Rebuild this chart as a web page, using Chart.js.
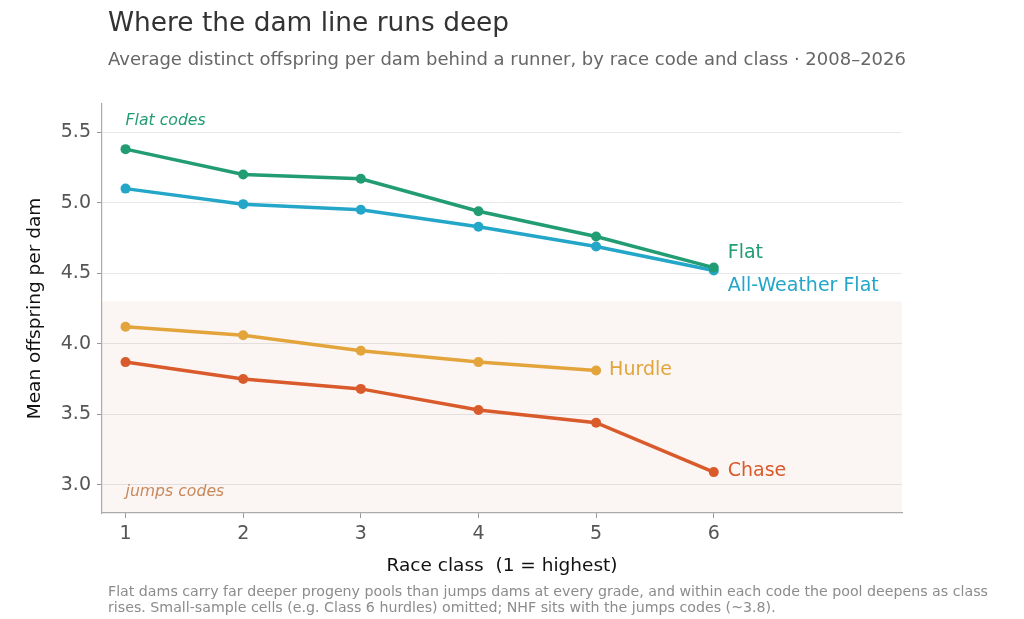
<!DOCTYPE html>
<html>
<head>
<meta charset="utf-8">
<script src="https://cdn.jsdelivr.net/npm/chart.js@4"></script>
<style>
  body { margin: 0; background: #fff; font-family: "DejaVu Sans", sans-serif; }
  #wrap { position: relative; width: 1024px; height: 619px; overflow: hidden; }
  #result { position: absolute; left: 0; top: 0; }
  .txt { position: absolute; left: 108px; white-space: nowrap; }
  #title { top: 7px; font-size: 26.4px; line-height: 30px; color: #333; }
  #subtitle { top: 49px; font-size: 18px; line-height: 20px; color: #666; }
  #note { top: 583px; font-size: 14.2px; line-height: 16px; color: #8c8c8c; }
</style>
</head>
<body>
<div id="wrap">
  <canvas id="result" width="1024" height="619"></canvas>
  <div class="txt" id="title">Where the dam line runs deep</div>
  <div class="txt" id="subtitle">Average distinct offspring per dam behind a runner, by race code and class · 2008–2026</div>
  <div class="txt" id="note">Flat dams carry far deeper progeny pools than jumps dams at every grade, and within each code the pool deepens as class<br>rises. Small-sample cells (e.g. Class 6 hurdles) omitted; NHF sits with the jumps codes (~3.8).</div>
</div>
<script>
// race classes and mean distinct offspring per dam
const raceClasses = [1, 2, 3, 4, 5, 6];
const flatValues = [5.38, 5.20, 5.17, 4.94, 4.76, 4.54];
const awFlatValues = [5.10, 4.99, 4.95, 4.83, 4.69, 4.52];
const hurdleValues = [4.12, 4.06, 3.95, 3.87, 3.81];
const chaseValues = [3.87, 3.75, 3.68, 3.53, 3.44, 3.09];
const yTicks = [3.0, 3.5, 4.0, 4.5, 5.0, 5.5];
const jumpsBandTop = 4.3;

const seriesNames = ['Flat', 'All-Weather Flat', 'Hurdle', 'Chase'];
const seriesValues = [flatValues, awFlatValues, hurdleValues, chaseValues];
const seriesColors = ['#229c73', '#23a6c8', '#e3a43c', '#d95a2b'];
// pixel nudges for the end-of-line labels
const labelOffsets = [[14, -15], [14, 16], [13, 0], [14, -1]];

const toPoints = vals => vals.map((v, i) => ({ x: raceClasses[i], y: v }));

// background band + text annotations
const extrasPlugin = {
    id: 'extras',
    beforeDraw(chart) {
        const { ctx, chartArea, scales } = chart;
        const yTop = scales.y.getPixelForValue(jumpsBandTop);
        ctx.save();
        ctx.fillStyle = '#fbf6f3';
        ctx.fillRect(chartArea.left, yTop, chartArea.right - chartArea.left, chartArea.bottom - yTop);
        ctx.restore();
    },
    afterDatasetsDraw(chart) {
        const { ctx, chartArea, scales } = chart;
        ctx.save();
        ctx.textBaseline = 'middle';
        ctx.textAlign = 'left';
        ctx.font = 'italic 15.7px "DejaVu Sans"';
        ctx.fillStyle = '#229c73';
        ctx.fillText('Flat codes', scales.x.getPixelForValue(1), chartArea.top + 17);
        ctx.fillStyle = '#c88a5c';
        ctx.fillText('jumps codes', scales.x.getPixelForValue(1), chartArea.bottom - 21);

        ctx.font = '19px "DejaVu Sans"';
        seriesValues.forEach((vals, i) => {
            const last = vals.length - 1;
            const px = scales.x.getPixelForValue(raceClasses[last]);
            const py = scales.y.getPixelForValue(vals[last]);
            ctx.fillStyle = seriesColors[i];
            ctx.fillText(seriesNames[i], px + labelOffsets[i][0], py + labelOffsets[i][1]);
        });
        ctx.restore();
    }
};

const ctx = document.getElementById('result').getContext('2d');
Chart.defaults.font.family = '"DejaVu Sans", sans-serif';

new Chart(ctx, {
    type: 'line',
    data: {
        datasets: seriesNames.map((name, i) => ({
            label: name,
            data: toPoints(seriesValues[i]),
            borderColor: seriesColors[i],
            backgroundColor: seriesColors[i],
            borderWidth: 3.5,
            pointRadius: 5,
            pointHoverRadius: 5,
            pointBorderWidth: 0,
            tension: 0
        }))
    },
    options: {
        responsive: false,
        animation: false,
        layout: { padding: { left: 20, top: 104, right: 122, bottom: 38 } },
        plugins: {
            legend: { display: false },
            tooltip: { enabled: false }
        },
        scales: {
            x: {
                type: 'linear',
                min: 0.8,
                max: 7.6,
                afterBuildTicks: scale => { scale.ticks = raceClasses.map(v => ({ value: v })); },
                afterFit: scale => { scale.height = 619 - 38 - 513; },
                grid: { drawOnChartArea: false, drawTicks: true, tickLength: 5, tickColor: '#999' },
                border: { color: '#aaa', width: 1.2 },
                ticks: { color: '#555', font: { size: 19 }, padding: 5 },
                title: { display: true, text: 'Race class  (1 = highest)', color: '#111', font: { size: 18.5 } }
            },
            y: {
                type: 'linear',
                min: 2.8,
                max: 5.7,
                afterBuildTicks: scale => { scale.ticks = yTicks.map(v => ({ value: v })); },
                afterFit: scale => { scale.width = 102 - 20; },
                grid: { color: 'rgba(0,0,0,0.09)', lineWidth: 1, drawTicks: true, tickLength: 5, tickColor: '#999' },
                border: { color: '#aaa', width: 1.2 },
                ticks: { color: '#555', font: { size: 19 }, padding: 6, callback: v => v.toFixed(1) },
                title: { display: true, text: 'Mean offspring per dam', color: '#111', font: { size: 18.5 } }
            }
        }
    },
    plugins: [extrasPlugin]
});
</script>
</body>
</html>
